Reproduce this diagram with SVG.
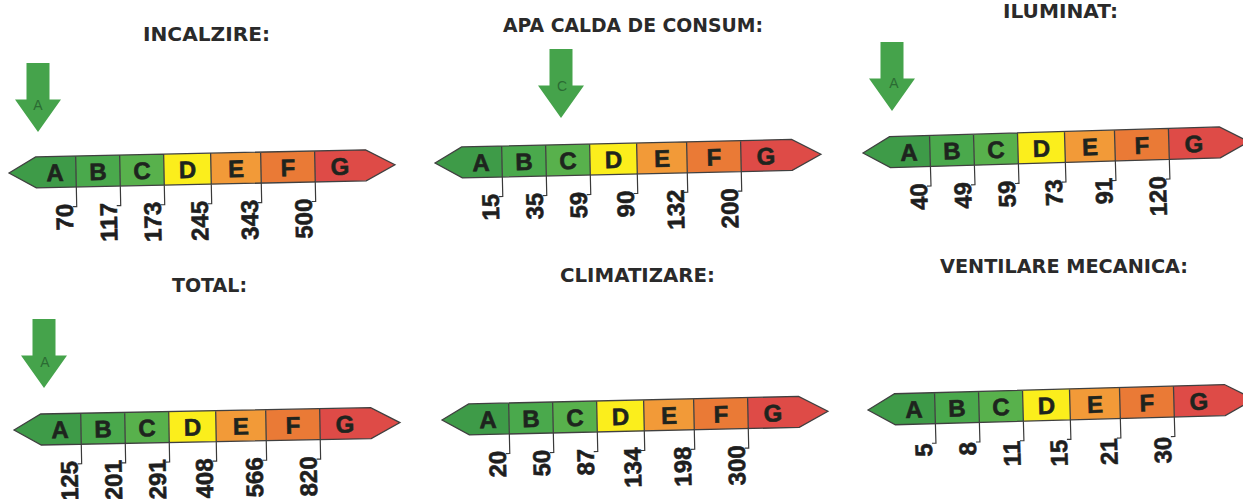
<svg xmlns="http://www.w3.org/2000/svg" xmlns:xlink="http://www.w3.org/1999/xlink" width="1243" height="499" viewBox="0 0 1243 499">
<style>
.title{font-family:"DejaVu Sans",Verdana,sans-serif;font-weight:bold;font-size:20px;fill:#2a2a2a;text-anchor:middle}
.lt{font-family:"Liberation Sans",Arial,sans-serif;font-weight:bold;font-size:24px;fill:#1e241e;stroke:#1e241e;stroke-width:0.6;text-anchor:middle}
.num{font-family:"Liberation Sans",Arial,sans-serif;font-weight:bold;font-size:24px;fill:#1e1e1e;stroke:#1e1e1e;stroke-width:0.6;text-anchor:end}
.al{font-family:"Liberation Sans",Arial,sans-serif;font-size:14px;fill:#2b6b33;text-anchor:middle}
.sa{fill:#3e9b48}.sb{fill:#4aa94c}.sc{fill:#58b14c}.sd{fill:#fbee1c}.se{fill:#f29a38}.sf{fill:#ea7a36}.sg{fill:#de4b47}
.ol{fill:none;stroke:#404040;stroke-width:1.3}
.tk{fill:none;stroke:#3a3a3a;stroke-width:1.2}
.arr{fill:#45a34b}
</style>
<defs>
<g id="bar">
<path class="sa" d="M0,0 L27,-15.5 H67 V15.5 H27 Z"/>
<rect class="sb" x="67" y="-15.5" width="44" height="31"/>
<rect class="sc" x="111" y="-15.5" width="44" height="31"/>
<rect class="sd" x="155" y="-15.5" width="47" height="31"/>
<rect class="se" x="202" y="-15.5" width="50" height="31"/>
<rect class="sf" x="252" y="-15.5" width="54" height="31"/>
<path class="sg" d="M306,-15.5 H357 L386,0 L357,15.5 H306 Z"/>
<path class="ol" d="M0,0 L27,-15.5 H357 L386,0 L357,15.5 H27 Z M67,-15.5V15.5 M111,-15.5V15.5 M155,-15.5V15.5 M202,-15.5V15.5 M252,-15.5V15.5 M306,-15.5V15.5"/>
<path class="tk" d="M67,15.5V35h-4 M111,15.5V35h-4 M155,15.5V35h-4 M202,15.5V35h-4 M252,15.5V35h-4 M306,15.5V35h-4"/>
<text class="lt" x="46" y="9">A</text>
<text class="lt" x="89" y="9">B</text>
<text class="lt" x="133" y="9">C</text>
<text class="lt" x="178.5" y="9">D</text>
<text class="lt" x="227" y="9">E</text>
<text class="lt" x="279" y="9">F</text>
<text class="lt" x="331" y="9">G</text>
</g>
<path id="arrow" d="M-11.5,0 H11.5 V36.5 H23 L0,69 L-23,36.5 H-11.5 Z"/>
</defs>

<g id="incalzire">
<text class="title" x="206.5" y="41" textLength="127" lengthAdjust="spacingAndGlyphs">INCALZIRE:</text>
<use xlink:href="#arrow" class="arr" x="38" y="63"/>
<text class="al" x="38" y="110">A</text>
<g transform="translate(9,173) rotate(-1.23)">
<use xlink:href="#bar"/>
<text class="num" transform="translate(63,32) rotate(-90)">70</text>
<text class="num" transform="translate(107,32) rotate(-90)">117</text>
<text class="num" transform="translate(151,32) rotate(-90)">173</text>
<text class="num" transform="translate(198,32) rotate(-90)">245</text>
<text class="num" transform="translate(248,32) rotate(-90)">343</text>
<text class="num" transform="translate(302,32) rotate(-90)">500</text>
</g>
</g>

<g id="apa-calda">
<text class="title" x="633" y="32" textLength="260" lengthAdjust="spacingAndGlyphs">APA CALDA DE CONSUM:</text>
<use xlink:href="#arrow" class="arr" x="561" y="49"/>
<text class="al" x="562" y="91">C</text>
<g transform="translate(435,163) rotate(-1.3)">
<use xlink:href="#bar"/>
<text class="num" transform="translate(63,32) rotate(-90)">15</text>
<text class="num" transform="translate(107,32) rotate(-90)">35</text>
<text class="num" transform="translate(151,32) rotate(-90)">59</text>
<text class="num" transform="translate(198,32) rotate(-90)">90</text>
<text class="num" transform="translate(248,32) rotate(-90)">132</text>
<text class="num" transform="translate(302,32) rotate(-90)">200</text>
</g>
</g>

<g id="iluminat">
<text class="title" x="1060.5" y="18" textLength="115" lengthAdjust="spacingAndGlyphs">ILUMINAT:</text>
<use xlink:href="#arrow" class="arr" x="892" y="42"/>
<text class="al" x="894" y="88">A</text>
<g transform="translate(863,153) rotate(-1.7)">
<use xlink:href="#bar"/>
<text class="num" transform="translate(63,32) rotate(-90)">40</text>
<text class="num" transform="translate(107,32) rotate(-90)">49</text>
<text class="num" transform="translate(151,32) rotate(-90)">59</text>
<text class="num" transform="translate(198,32) rotate(-90)">73</text>
<text class="num" transform="translate(248,32) rotate(-90)">91</text>
<text class="num" transform="translate(302,32) rotate(-90)">120</text>
</g>
</g>

<g id="total">
<text class="title" x="209.5" y="292" textLength="75" lengthAdjust="spacingAndGlyphs">TOTAL:</text>
<use xlink:href="#arrow" class="arr" x="44" y="319"/>
<text class="al" x="45" y="367">A</text>
<g transform="translate(14,430) rotate(-1.1)">
<use xlink:href="#bar"/>
<text class="num" transform="translate(63,32) rotate(-90)">125</text>
<text class="num" transform="translate(107,32) rotate(-90)">201</text>
<text class="num" transform="translate(151,32) rotate(-90)">291</text>
<text class="num" transform="translate(198,32) rotate(-90)">408</text>
<text class="num" transform="translate(248,32) rotate(-90)">566</text>
<text class="num" transform="translate(302,32) rotate(-90)">820</text>
</g>
</g>

<g id="climatizare">
<text class="title" x="637.5" y="282" textLength="155" lengthAdjust="spacingAndGlyphs">CLIMATIZARE:</text>
<g transform="translate(442,420) rotate(-1.3)">
<use xlink:href="#bar"/>
<text class="num" transform="translate(63,32) rotate(-90)">20</text>
<text class="num" transform="translate(107,32) rotate(-90)">50</text>
<text class="num" transform="translate(151,32) rotate(-90)">87</text>
<text class="num" transform="translate(198,32) rotate(-90)">134</text>
<text class="num" transform="translate(248,32) rotate(-90)">198</text>
<text class="num" transform="translate(302,32) rotate(-90)">300</text>
</g>
</g>

<g id="ventilare-mecanica">
<text class="title" x="1064" y="273" textLength="248" lengthAdjust="spacingAndGlyphs">VENTILARE MECANICA:</text>
<g transform="translate(868,410) rotate(-1.6)">
<use xlink:href="#bar"/>
<text class="num" transform="translate(63,35) rotate(-90)">5</text>
<text class="num" transform="translate(107,35) rotate(-90)">8</text>
<text class="num" transform="translate(151,35) rotate(-90)">11</text>
<text class="num" transform="translate(198,35) rotate(-90)">15</text>
<text class="num" transform="translate(248,35) rotate(-90)">21</text>
<text class="num" transform="translate(302,35) rotate(-90)">30</text>
</g>
</g>
<g id="connectors"></g>
</svg>
